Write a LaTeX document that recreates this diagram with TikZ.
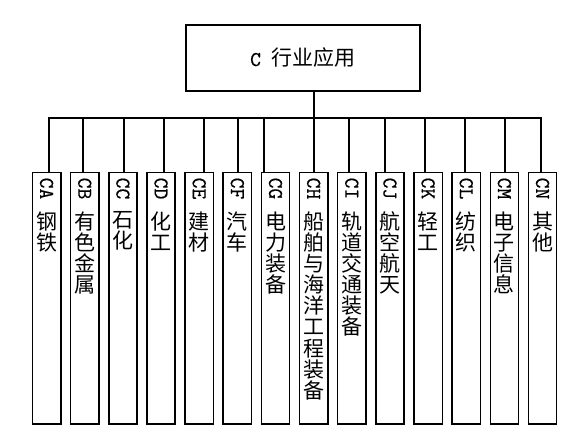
\documentclass[tikz,border=0pt]{standalone}
\usepackage{fontspec}
\newfontfamily\cjk{Noto Sans CJK SC}
\newfontfamily\codefont{Latin Modern Mono}[FakeBold=0.5]
\begin{document}
\begin{tikzpicture}[x=1pt,y=-1pt,
  box/.style={draw, line width=1.5pt, rectangle, inner sep=0pt,
    minimum width=28.3pt, minimum height=251pt, anchor=north west},
  topbox/.style={draw, line width=1.5pt, rectangle, inner sep=0pt,
    minimum width=234pt, minimum height=66pt,
    font=\fontsize{21}{21}\selectfont\cjk},
  code/.style={rotate=-90, anchor=west, inner sep=0pt,
    font=\fontsize{21}{21}\selectfont\codefont},
  chars/.style={anchor=north, inner sep=0pt, align=center,
    font=\fontsize{21}{21.1}\selectfont\cjk},
  wire/.style={line width=1.5pt}]
\useasboundingbox (0,0) rectangle (577,446);

\node[topbox] (top) at (303,58) {{\codefont C~}行业应用};
\coordinate (tj) at (314,118);
\draw[wire] (top.south -| tj) -- (tj);

\foreach \bx/\code/\txt [count=\i] in {
  49/CA/钢\\铁,
  83/CB/有\\色\\金\\属,
  124/CC/石\\化,
  164/CD/化\\工,
  204/CE/建\\材,
  238/CF/汽\\车,
  264/CG/电\\力\\装\\备,
  314/CH/船\\舶\\与\\海\\洋\\工\\程\\装\\备,
  349/CI/轨\\道\\交\\通\\装\\备,
  385/CJ/航\\空\\航\\天,
  425/CK/轻\\工,
  465/CL/纺\\织,
  505/CM/电\\子\\信\\息,
  541/CN/其\\他}
{
  \pgfmathsetmacro{\lx}{31.7+38.15*(\i-1)}
  \node[box] (b\i) at (\lx,172) {};
  \node[code] (k\i) at ([yshift=-5.5pt]b\i.north) {\code};
  \node[chars] (t\i) at ([yshift=-39.5pt]b\i.north) {\txt};
  \coordinate (c\i) at (\bx,118);
  \draw[wire] (c\i) -- (c\i |- b\i.north);
}
\draw[wire] ([xshift=-0.75pt]c1) -- ([xshift=0.75pt]c14);
\end{tikzpicture}
\end{document}
